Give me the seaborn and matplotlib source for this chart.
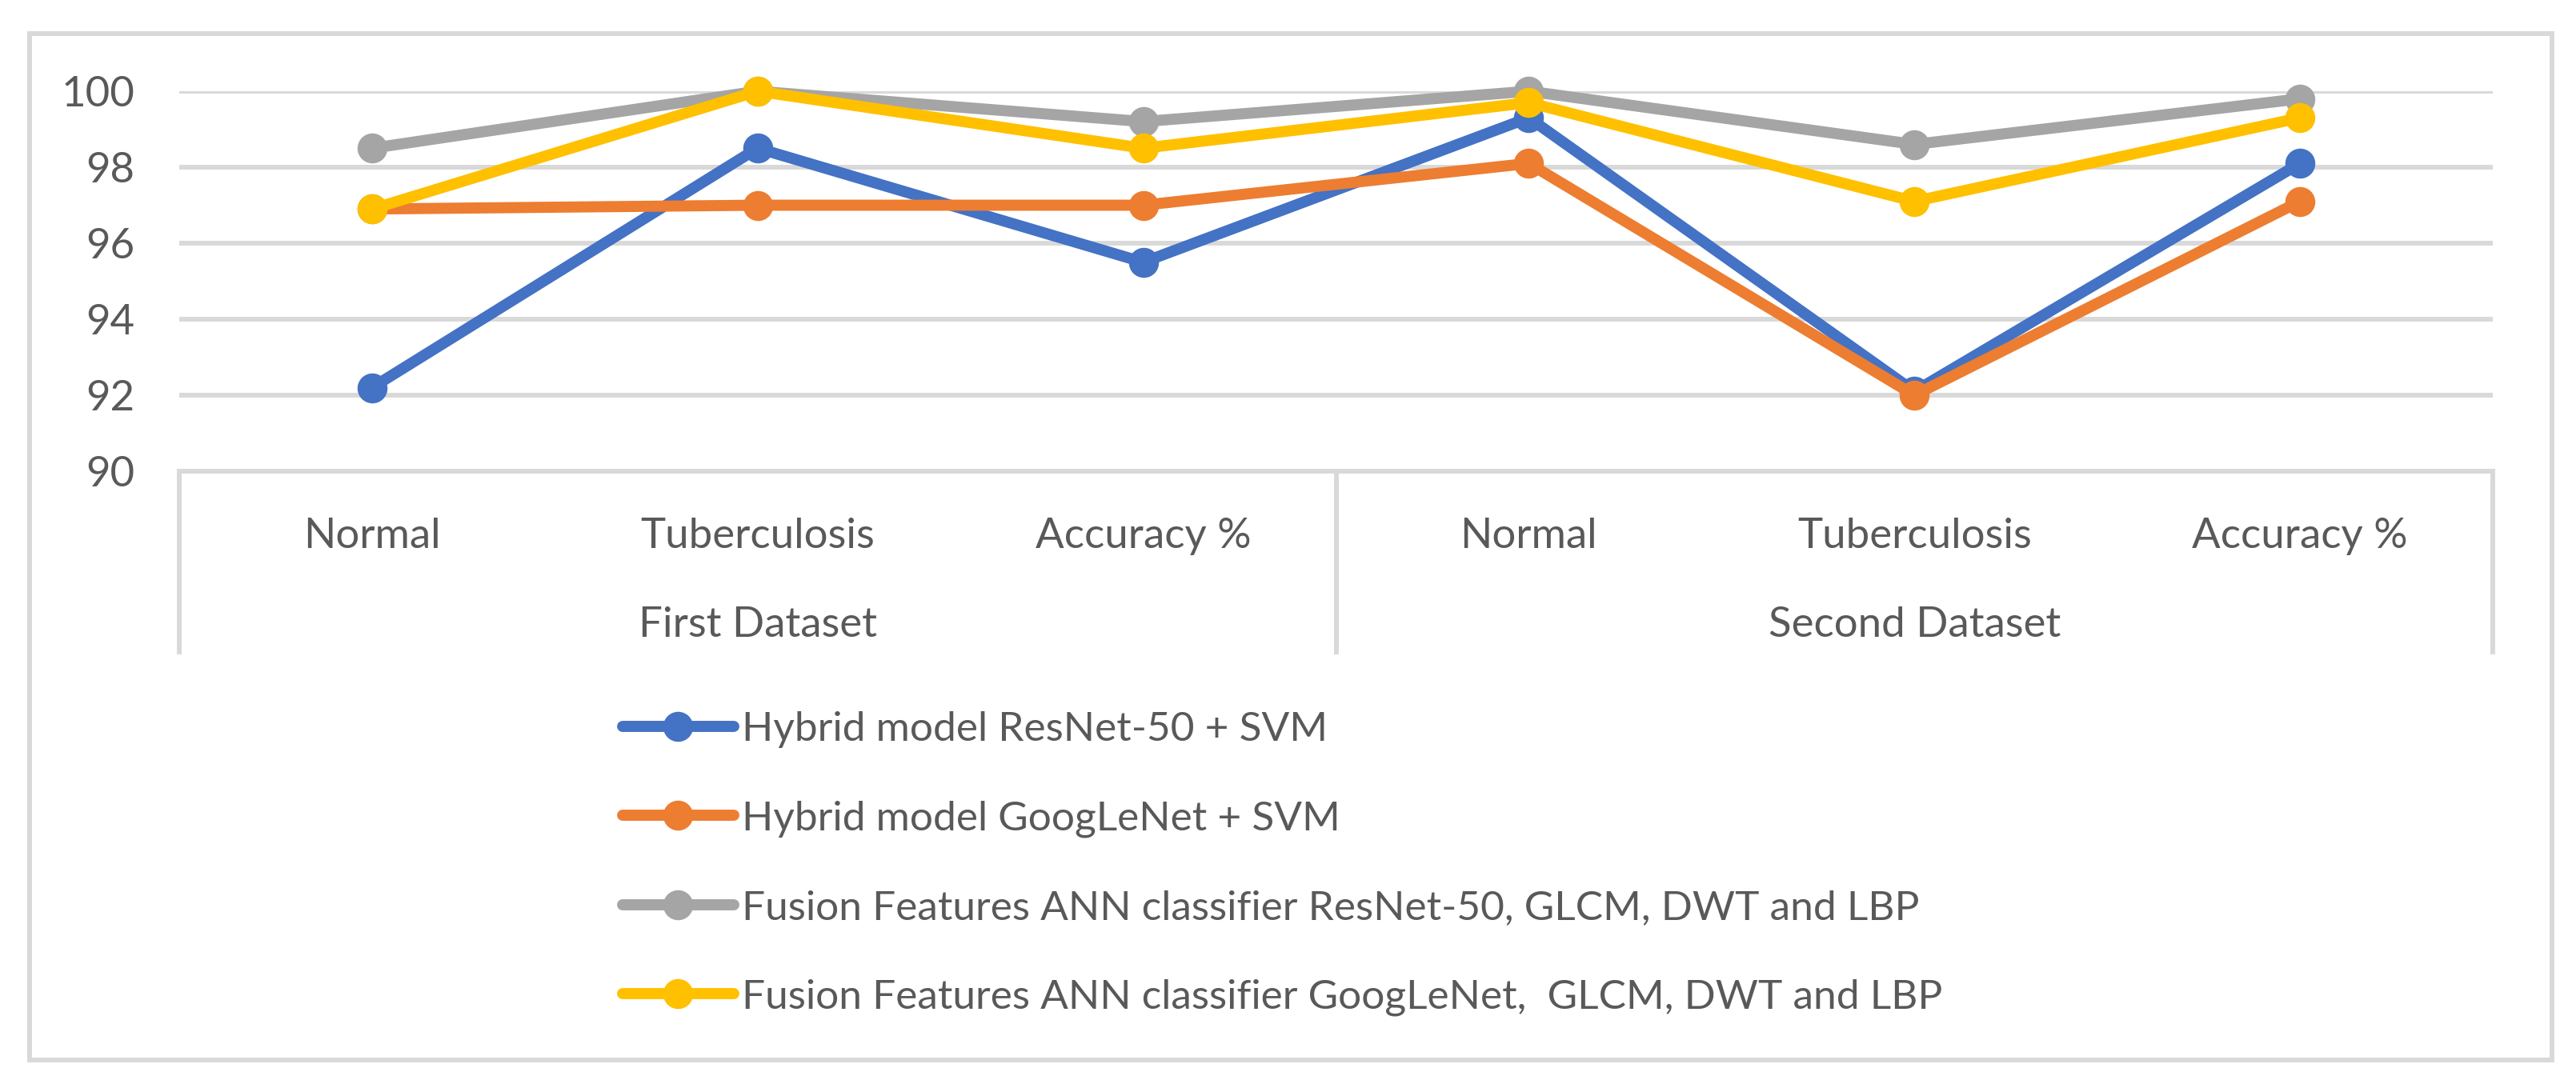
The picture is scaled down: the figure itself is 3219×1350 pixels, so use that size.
# line chart: accuracy of the four models on two datasets

import numpy as np
import pandas as pd
import matplotlib
matplotlib.use("Agg")
import matplotlib.pyplot as plt
import matplotlib.transforms as mtransforms
from matplotlib.patches import Rectangle
import seaborn as sns

# data
categories = ["Normal", "Tuberculosis", "Accuracy %", "Normal", "Tuberculosis", "Accuracy %"]
groups = ["First Dataset", "Second Dataset"]
series_names = [
    "Hybrid model ResNet-50 + SVM",
    "Hybrid model GoogLeNet + SVM",
    "Fusion Features ANN classifier ResNet-50, GLCM, DWT and LBP",
    "Fusion Features ANN classifier GoogLeNet,  GLCM, DWT and LBP",
]
resnet_svm = [92.2, 98.5, 95.5, 99.3, 92.1, 98.1]
googlenet_svm = [96.9, 97.0, 97.0, 98.1, 92.0, 97.1]
fusion_resnet = [98.5, 100.0, 99.2, 100.0, 98.6, 99.8]
fusion_googlenet = [96.9, 100.0, 98.5, 99.7, 97.1, 99.3]
yticks = [90, 92, 94, 96, 98, 100]

colors = ["#4472C4", "#ED7D31", "#A5A5A5", "#FFC000"]
grid_col = "#D9D9D9"
text_col = "#595959"

# long table for seaborn
rows = []
for name, vals in zip(series_names, [resnet_svm, googlenet_svm, fusion_resnet, fusion_googlenet]):
    for i, v in enumerate(vals):
        rows.append({"pos": i, "value": v, "series": name})
df = pd.DataFrame(rows)

sns.set_style("white")
plt.rcParams["font.family"] = ["Lato", "DejaVu Sans"]

W, H = 3219, 1350
fig = plt.figure(figsize=(W / 100, H / 100), dpi=100)
ax = fig.add_axes([224 / W, 1 - 589 / H, (3115 - 224) / W, (589 - 114) / H])

sns.lineplot(data=df, x="pos", y="value", hue="series", hue_order=series_names,
             palette=colors, marker="o", markersize=27, markeredgewidth=0,
             lw=10, legend=False, clip_on=False, ax=ax, zorder=3)

ax.set_xlim(-0.5, 5.5)
ax.set_ylim(90, 100)
ax.set_yticks(yticks)
ax.set_xticks(range(len(categories)))
ax.set_xticklabels(categories)
ax.set_xlabel("")
ax.set_ylabel("")
ax.grid(axis="y", color=grid_col, lw=4.3, zorder=0)
ax.set_axisbelow(True)
for s in ["top", "left", "right"]:
    ax.spines[s].set_visible(False)
ax.spines["bottom"].set_color(grid_col)
ax.spines["bottom"].set_linewidth(4.3)
ax.tick_params(axis="both", length=0, labelsize=38, labelcolor=text_col)
ax.tick_params(axis="y", pad=40)
ax.tick_params(axis="x", pad=42)

# multi-level category box under the axis
trans = mtransforms.blended_transform_factory(ax.transData, ax.transAxes)
box_bottom = -(818 - 589) / (589 - 114)
for xv in [-0.5, 2.5, 5.5]:
    ax.plot([xv, xv], [0, box_bottom], transform=trans, color=grid_col,
            lw=4.3, clip_on=False, solid_capstyle="butt")
for gi, g in enumerate(groups):
    ax.text(gi * 3 + 1, -(781 - 589) / (589 - 114), g, transform=trans,
            ha="center", va="center", fontsize=38, color=text_col)

# legend
ax.legend(handles=ax.lines[:4], labels=series_names, loc="upper left",
          bbox_to_anchor=(778 / W, 1 - 889 / H), bbox_transform=fig.transFigure,
          frameon=False, fontsize=37, labelcolor=text_col, handlelength=2.7,
          handletextpad=0.2, labelspacing=1.27, borderpad=0, borderaxespad=0)

# outer chart border
fig.patches.append(Rectangle((37 / W, 1 - 1325 / H), (3189 - 37) / W, (1325 - 42) / H,
                             transform=fig.transFigure, fill=False,
                             edgecolor=grid_col, lw=4.3))

fig.savefig("out.png", dpi=100)
